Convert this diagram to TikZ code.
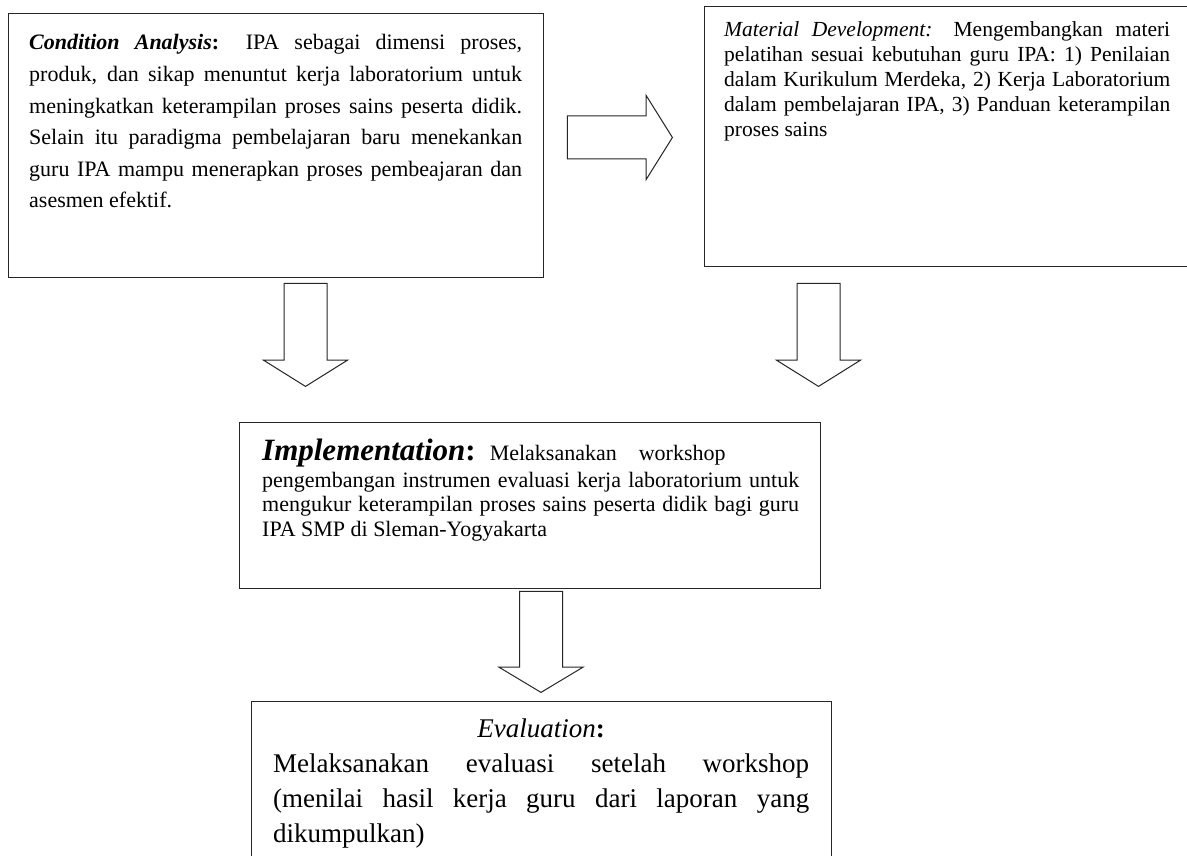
\documentclass[tikz,border=0pt]{standalone}
\usepackage{fontspec}
\setmainfont{Liberation Serif}
\usetikzlibrary{shapes.arrows}
\begin{document}
\begin{tikzpicture}
  [x=1pt,y=-1pt,
   box/.style={draw=black!85,line width=1.4pt,inner sep=0pt,anchor=north west},
   txt/.style={inner sep=0pt,align=justify,anchor=base west},
   blockarr/.style={single arrow,draw=black!85,line width=1pt,inner xsep=0pt,
     inner ysep=21pt,minimum width=83pt,single arrow head extend=20.5pt,
     single arrow tip angle=116,anchor=tip}]
  \clip (0,0) rectangle (1187,856);
  \fill[white] (0,0) rectangle (1187,856);

  % boxes
  \node[box,minimum width=535pt,minimum height=264pt] (ca) at (8,13) {};
  \node[box,minimum width=491pt,minimum height=260pt] (md) at (704,6) {};
  \node[box,minimum width=581pt,minimum height=166pt] (im) at (239,422) {};
  \node[box,minimum width=580pt,minimum height=170pt] (ev) at (251,701) {};

  % texts
  \node[txt,text width=493pt,font=\fontsize{22}{31.6}\selectfont] (ca-t) at (29,50)
    {\textbf{\textit{Condition Analysis}:} IPA sebagai dimensi proses,\linebreak
     produk, dan sikap menuntut kerja laboratorium untuk\linebreak
     meningkatkan keterampilan proses sains peserta didik.\linebreak
     Selain itu paradigma pembelajaran baru menekankan\linebreak
     guru IPA mampu menerapkan proses pembeajaran dan\linebreak
     asesmen efektif.};
  \node[txt,text width=446pt,font=\fontsize{21.5}{25}\selectfont] (md-t) at (724,37)
    {\textit{Material Development:} Mengembangkan materi\linebreak
     pelatihan sesuai kebutuhan guru IPA: 1) Penilaian\linebreak
     dalam Kurikulum Merdeka, 2) Kerja Laboratorium\linebreak
     dalam pembelajaran IPA, 3) Panduan keterampilan\linebreak
     proses sains};
  \node[txt,text width=537pt,font=\fontsize{22}{24.5}\selectfont] (im-t) at (262,460)
    {{\fontsize{31}{31}\selectfont\textbf{\textit{Implementation}:}}\hspace{14pt}Melaksanakan\hspace{22pt}workshop\\[2.5pt]
     pengembangan instrumen evaluasi kerja laboratorium untuk\linebreak
     mengukur keterampilan proses sains peserta didik bagi guru\linebreak
     IPA SMP di Sleman-Yogyakarta};
  \node[txt,text width=536pt,font=\fontsize{27}{35}\selectfont] (ev-t) at (273,737)
    {\centerline{\textit{Evaluation}\textbf{:}}
     Melaksanakan evaluasi setelah workshop\linebreak
     (menilai hasil kerja guru dari laporan yang\linebreak
     dikumpulkan)};

  % block arrows
  \node[blockarr,minimum height=105pt] (ca-md) at (673,137.5) {};
  \node[blockarr,rotate=-90,minimum height=103pt] (ca-im) at (305.5,387) {};
  \node[blockarr,rotate=-90,minimum height=103pt] (md-im) at (818.5,387) {};
  \node[blockarr,rotate=-90,minimum height=101pt,single arrow tip angle=118] (im-ev) at (541,693) {};

\end{tikzpicture}
\end{document}
